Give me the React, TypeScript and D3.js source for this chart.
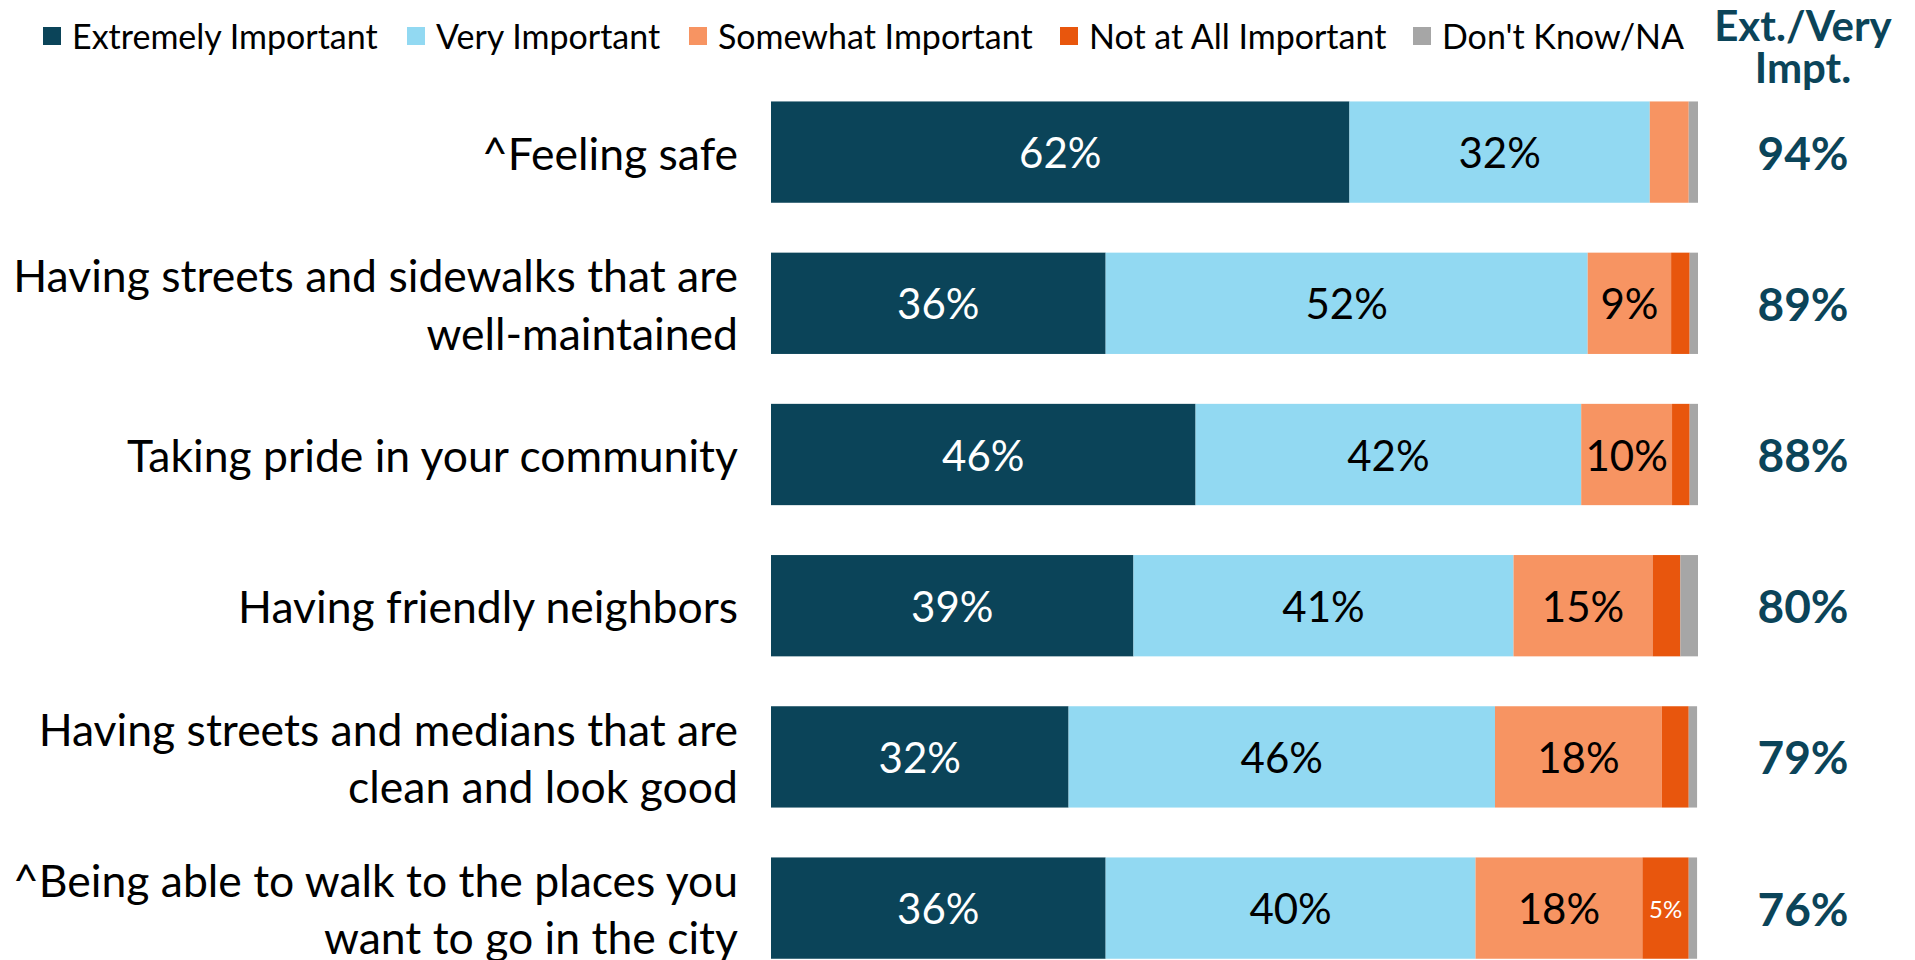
import React from "react";
import * as d3 from "d3";

const categories = [
  "^Feeling safe",
  "Having streets and sidewalks that are\nwell-maintained",
  "Taking pride in your community",
  "Having friendly neighbors",
  "Having streets and medians that are\nclean and look good",
  "^Being able to walk to the places you\nwant to go in the city",
];

const seriesNames = [
  "Extremely Important",
  "Very Important",
  "Somewhat Important",
  "Not at All Important",
  "Don't Know/NA",
];

const extremely = [62.4, 36.1, 45.8, 39.1, 32.1, 36.1];
const very = [32.4, 52.0, 41.6, 41.0, 46.0, 39.9];
const somewhat = [4.2, 9.0, 9.8, 15.0, 18.0, 18.0];
const notAtAll = [0, 2.0, 1.9, 3.0, 2.9, 5.0];
const dontKnow = [1.0, 0.9, 0.9, 1.9, 0.9, 0.9];
const extVery = [94, 89, 88, 80, 79, 76];

const headerLines = ["Ext./Very", "Impt."];

const colors = ["#0b4459", "#92d9f2", "#f79462", "#e8560d", "#a6a6a6"];
const labelColors = ["#ffffff", "#000000", "#000000", "#ffffff", "#000000"];
const FONT = "Lato, 'Open Sans', sans-serif";

// legend square positions (layout)
const legendX = [43, 407, 689, 1060, 1413];

export default function App() {
  const W = 1915;
  const H = 960;
  const keys = ["k0", "k1", "k2", "k3", "k4"];
  const allSeries = [extremely, very, somewhat, notAtAll, dontKnow];
  const rows = categories.map((c, i) => {
    const r: any = { cat: c, idx: i };
    keys.forEach((k, j) => (r[k] = allSeries[j][i]));
    return r;
  });
  const stacked = d3.stack<any>().keys(keys)(rows);

  const x = d3.scaleLinear().domain([0, 100]).range([771, 1698]);
  const y = d3
    .scaleBand<number>()
    .domain(d3.range(categories.length))
    .range([76.5, 983.7])
    .paddingInner(0.33)
    .paddingOuter(0.165);
  const bw = y.bandwidth();

  const legendSize = 34;
  const labelX = 738;
  const rightX = 1803;

  return (
    <svg
      width={W}
      height={H}
      style={{ position: "absolute", left: 0, top: 0, background: "#fff" }}
      fontFamily={FONT}
    >
      {seriesNames.map((name, i) => (
        <g key={i}>
          <rect x={legendX[i]} y={27} width={18} height={18} fill={colors[i]} />
          <text
            x={legendX[i] + 29}
            y={35}
            fontSize={legendSize}
            dominantBaseline="central"
            fill="#000"
          >
            {name}
          </text>
        </g>
      ))}
      <text x={rightX} textAnchor="middle" fontSize={42} fontWeight={700} fill="#0b4459">
        {headerLines.map((t, i) => (
          <tspan key={i} x={rightX} y={41 + i * 42}>
            {t}
          </tspan>
        ))}
      </text>
      {stacked.map((s, j) => (
        <g key={j}>
          {s.map((d, i) => {
            const x0 = x(d[0]);
            const x1 = x(d[1]);
            const v = d[1] - d[0];
            const yy = y(i)!;
            return (
              <g key={i}>
                {v > 0 && <rect x={x0} y={yy} width={x1 - x0} height={bw} fill={colors[j]} />}
                {v >= 4.5 && (
                  <text
                    x={(x0 + x1) / 2}
                    y={yy + bw / 2}
                    textAnchor="middle"
                    dominantBaseline="central"
                    fontSize={j === 3 ? 24 : 42}
                    fill={labelColors[j]}
                  >
                    {Math.round(v)}%
                  </text>
                )}
              </g>
            );
          })}
        </g>
      ))}
      {categories.map((c, i) => {
        const lines = c.split("\n");
        const cy = y(i)! + bw / 2;
        return (
          <g key={i}>
            {lines.map((l, k) => (
              <text
                key={k}
                x={labelX}
                y={cy + (k - (lines.length - 1) / 2) * 57.5}
                textAnchor="end"
                dominantBaseline="central"
                fontSize={44.5}
                fill="#000"
              >
                {l}
              </text>
            ))}
            <text
              x={rightX}
              y={cy}
              textAnchor="middle"
              dominantBaseline="central"
              fontSize={46}
              fontWeight={700}
              fill="#0b4459"
            >
              {extVery[i]}%
            </text>
          </g>
        );
      })}
    </svg>
  );
}
